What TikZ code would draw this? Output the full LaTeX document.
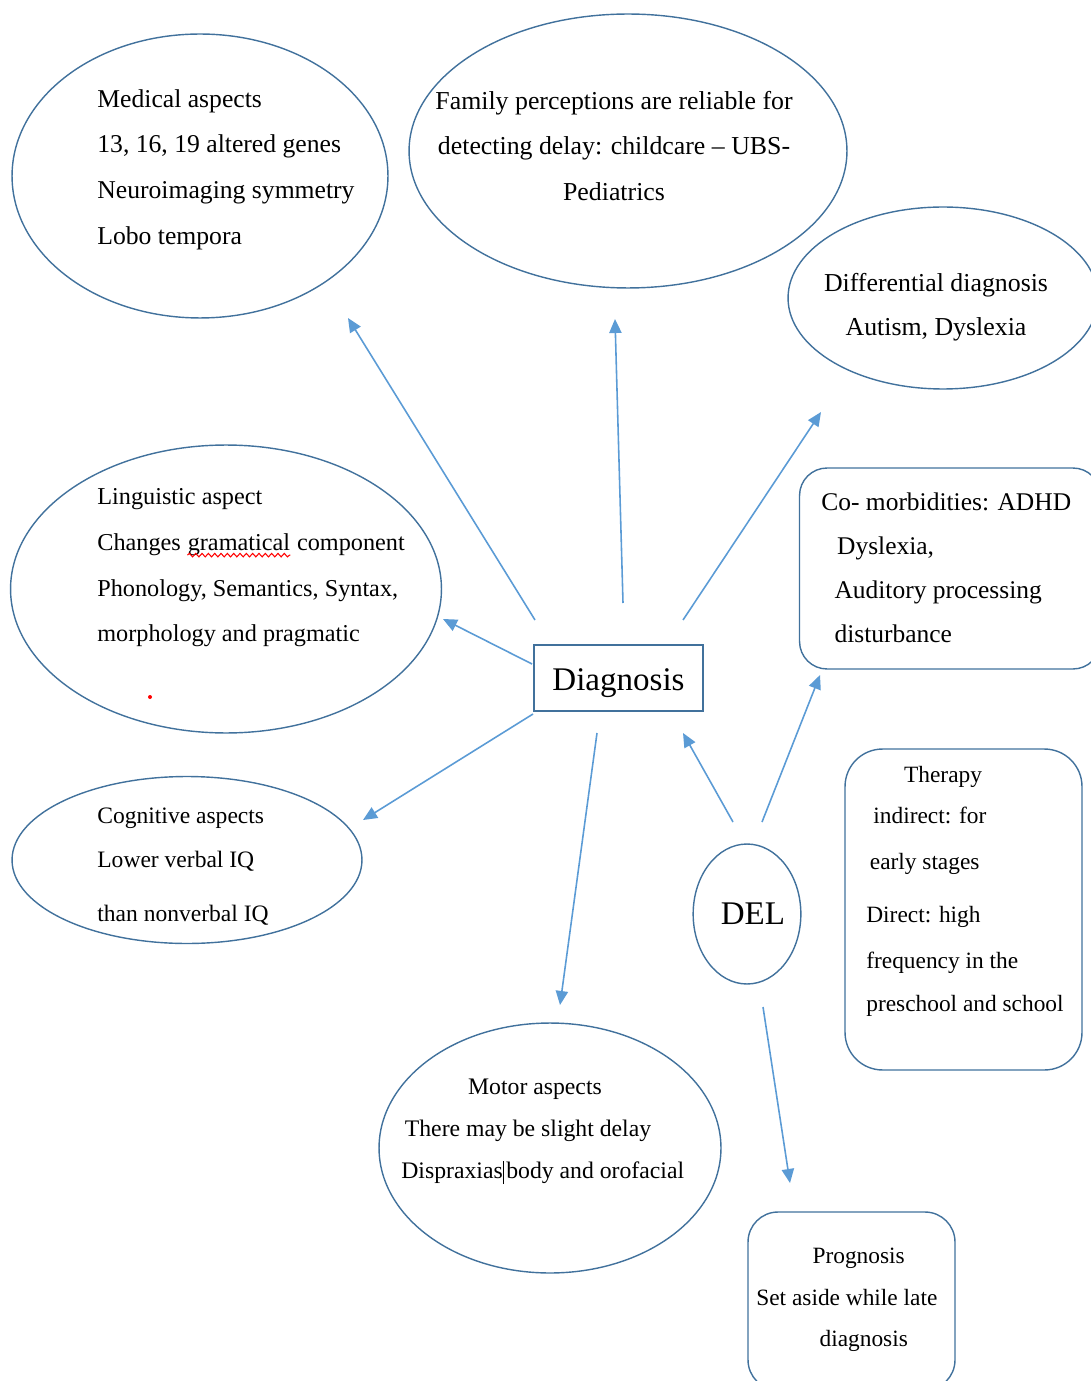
\documentclass[tikz,border=0pt]{standalone}
\usepackage{fontspec}
\setmainfont{Liberation Serif}
\usetikzlibrary{shapes.geometric,arrows.meta,decorations.pathmorphing}
\definecolor{shpblue}{RGB}{65,113,156}
\definecolor{arrblue}{RGB}{91,155,213}
\newcommand{\fs}[2]{\fontsize{#1}{#2}\selectfont}
\tikzset{
  bubble/.style={ellipse, draw=shpblue, line width=0.8pt, inner sep=0pt},
  card/.style={rectangle, rounded corners=#1, draw=shpblue, line width=0.8pt, inner sep=0pt},
  txt/.style={font=\fs{14}{26}, align=left, inner sep=0pt, anchor=west},
  ctxt/.style={txt, align=center, anchor=center},
  bigtxt/.style={font=\fs{18.8}{22}},
  arr/.style={draw=arrblue, line width=0.9pt, -{Triangle[length=8pt,width=7pt]}}
}

\begin{document}
\begin{tikzpicture}[x=0.02cm, y=-0.02cm]
\useasboundingbox (0,0) rectangle (1090,1381);
% shapes
\node[bubble, minimum width=7.52cm, minimum height=5.68cm] (med) at (200,176) {};
\node[bubble, minimum width=8.76cm, minimum height=5.48cm] (fam) at (628,151) {};
\node[bubble, minimum width=6.2cm, minimum height=3.64cm] (dif) at (943,298) {};
\node[card=0.55cm, minimum width=6.02cm, minimum height=4.02cm] (com) at (950,568.5) {};
\node[bubble, minimum width=8.62cm, minimum height=5.76cm] (lin) at (226,589) {};
\node[bubble, minimum width=7cm, minimum height=3.34cm] (cog) at (187,860) {};
\node[card=0pt, bigtxt, text height=14pt, text depth=0pt, minimum width=3.38cm, minimum height=1.32cm] (dg) at (618.5,678) {Diagnosis};
\node[bubble, bigtxt, minimum width=2.08cm, minimum height=2.8cm] (del) at (747,914) {\hspace*{6.8pt}DEL};
\node[card=0.75cm, minimum width=4.74cm, minimum height=6.42cm] (thr) at (963.5,909.5) {};
\node[bubble, minimum width=6.84cm, minimum height=5cm] (mot) at (550,1148) {};
\node[card=0.6cm, minimum width=4.14cm, minimum height=3.56cm] (prg) at (851.5,1301) {};
% texts
\node[txt, font=\fs{14.6}{26}] (med-t) at (97,169.5) {Medical aspects\\13, 16, 19 altered genes\\Neuroimaging symmetry\\Lobo tempora};
\node[ctxt, font=\fs{14.7}{26}] (fam-t) at (614,146) {Family perceptions are reliable for\\detecting delay: childcare \textendash{} UBS-\\Pediatrics};
\node[ctxt, font=\fs{14.7}{25}] (dif-t) at (936,307) {Differential diagnosis\\Autism, Dyslexia};
\node[txt, font=\fs{14.5}{25}] (com-t) at (821,568) {Co- morbidities: ADHD\\\hspace*{9pt}Dyslexia,\\\hspace*{7.5pt}Auditory processing\\\hspace*{7.5pt}disturbance};
\node[txt, font=\fs{13.8}{26}] (lin-t) at (97,568) {Linguistic aspect\\Changes \tikz[baseline=(gr.base)]{\node[inner sep=0pt] (gr) {gramatical}; \draw[red, line width=0.6pt, decorate, decoration={snake, amplitude=1pt, segment length=3.6pt}] ([yshift=-2.6pt]gr.base west) -- ([yshift=-2.6pt]gr.base east);} component\\Phonology, Semantics, Syntax,\\morphology and pragmatic};
\fill[red] (150,697) circle (2);
\node[txt, font=\fs{13.4}{26}] (cog-t) at (97,866.5) {Cognitive aspects\\[-1pt]Lower verbal IQ\\[5pt]than nonverbal IQ};
\node[txt, font=\fs{13.3}{26}] (thr-t) at (866,891.5) {\hspace*{21.5pt}Therapy\\[-3pt]\hspace*{4pt}indirect: for\\\hspace*{2pt}early stages\\[4.5pt]Direct: high\\frequency in the\\[-1.5pt]preschool and school};
\node[txt, font=\fs{13.5}{24}] (mot-t) at (401,1131.5) {\hspace*{38pt}Motor aspects\\\hspace*{2pt}There may be slight delay\\Dispraxias\rule[-3pt]{0.5pt}{13pt}\hspace{1.5pt}body and orofacial};
\node[txt, font=\fs{13.3}{23.5}] (prg-t) at (756,1300) {\hspace*{32pt}Prognosis\\Set aside while late\\\hspace*{36pt}diagnosis};
% arrow ends
\coordinate (dg-med) at (535,620); \coordinate (med-in) at (348,318);
\coordinate (dg-fam) at (623,603); \coordinate (fam-in) at (615,319);
\coordinate (dg-dif) at (683,620); \coordinate (dif-in) at (821,412);
\coordinate (dg-lin) at (532,664); \coordinate (lin-in) at (443,619);
\coordinate (dg-cog) at (533,714); \coordinate (cog-in) at (363,820);
\coordinate (dg-mot) at (597,733); \coordinate (mot-in) at (560,1005);
\coordinate (del-dg) at (733,822); \coordinate (dg-in) at (683,733);
\coordinate (del-com) at (762,822); \coordinate (com-in) at (820,675);
\coordinate (del-prg) at (763,1007); \coordinate (prg-in) at (790,1183);
%
\draw[arr] (dg-med) -- (med-in);
\draw[arr] (dg-fam) -- (fam-in);
\draw[arr] (dg-dif) -- (dif-in);
\draw[arr] (dg-lin) -- (lin-in);
\draw[arr] (dg-cog) -- (cog-in);
\draw[arr] (dg-mot) -- (mot-in);
\draw[arr] (del-dg) -- (dg-in);
\draw[arr] (del-com) -- (com-in);
\draw[arr] (del-prg) -- (prg-in);
\end{tikzpicture}
\end{document}
